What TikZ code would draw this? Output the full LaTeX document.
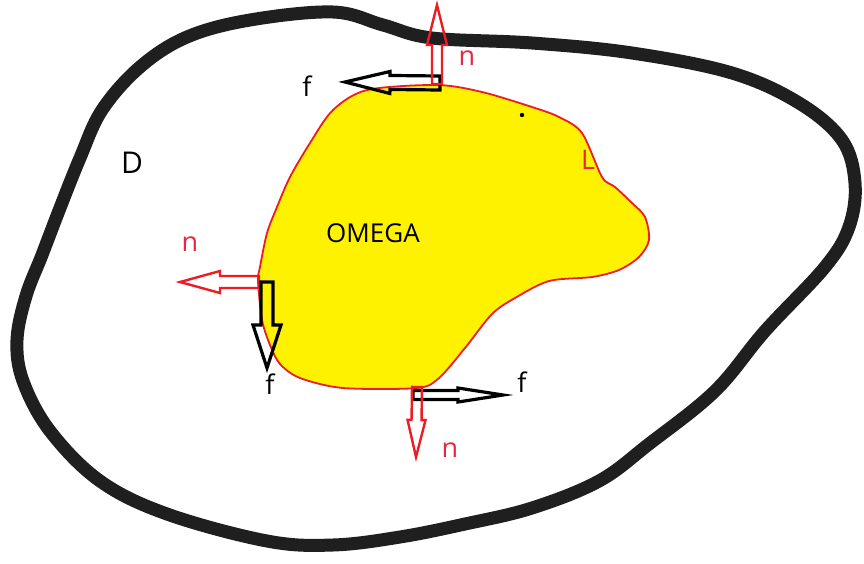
\documentclass[tikz,border=0pt]{standalone}
\usepackage{fontspec}
\setmainfont{Open Sans}
\usetikzlibrary{calc}

\definecolor{paintred}{RGB}{237,28,36}
\definecolor{paintyellow}{RGB}{255,242,0}
\definecolor{tagred}{RGB}{232,40,64}

\tikzstyle{tag}=[inner sep=0pt, font=\fontsize{27}{30}\selectfont]
\tikzstyle{normal}=[draw=paintred, line width=2.4pt, line join=miter]
\tikzstyle{force}=[draw=black, line width=3.2pt, line join=miter]

% hollow block arrow: style, from, to, shaft half width, head half width, head length
\newcommand{\blockarrow}[6]{%
  \coordinate (h) at ($(#3)!#6!(#2)$);
  \draw[#1] ($(#2)!#4!90:(#3)$) -- ($(h)!#4!90:(#3)$) -- ($(h)!#5!90:(#3)$) -- (#3)
    -- ($(h)!#5!-90:(#3)$) -- ($(h)!#4!-90:(#3)$) -- ($(#2)!#4!-90:(#3)$) -- cycle;}

\begin{document}
\begin{tikzpicture}[x=1pt, y=-1pt]
\useasboundingbox (0,0) rectangle (864,563);

% region D
\draw[line width=13pt, black!88, line join=round]
  plot[smooth cycle, tension=0.6] coordinates {
    (333,12) (383,25) (432,38) (532,43) (632,53) (732,73) (799,103)
    (842,140) (855,183) (849,227) (825,267) (765,331) (715,391) (649,444)
    (599,481) (532,508) (465,524) (400,537) (333,545) (267,541) (167,514)
    (100,481) (50,431) (23,381) (17,340) (26,296) (42,255) (60,208)
    (80,158) (102,110) (140,67) (187,37) (250,20)};

% domain OMEGA
\filldraw[fill=paintyellow, draw=paintred, line width=1.8pt]
  plot[smooth cycle, tension=0.5] coordinates {
    (437,85) (482,92) (532,107) (559,117) (582,133) (602,177) (615,187)
    (632,203) (645,217) (649,240) (639,257) (619,270) (592,277) (549,281)
    (515,298) (492,314) (465,348) (439,378) (417,388) (343,388) (300,378)
    (280,364) (270,345) (262,320) (258,281) (260,267) (267,233) (277,207)
    (290,177) (310,143) (333,110) (367,90)};
\fill (522,115) circle (2.2pt);

% normals and forces
\coordinate (ntop0) at (437,84);  \coordinate (ntop) at (437,5);
\coordinate (ftop0) at (440,83);  \coordinate (ftop) at (345,82);
\coordinate (nleft0) at (259,282); \coordinate (nleft) at (180,282);
\coordinate (fleft0) at (267,282); \coordinate (fleft) at (267,368);
\coordinate (nbot0) at (417,387); \coordinate (nbot) at (416,457);
\coordinate (fbot0) at (413,395); \coordinate (fbot) at (503,395);

\blockarrow{force}{ftop0}{ftop}{7pt}{11pt}{45pt}
\blockarrow{normal}{ntop0}{ntop}{5pt}{10pt}{40pt}
\blockarrow{normal}{nleft0}{nleft}{6pt}{11pt}{40pt}
\blockarrow{force}{fleft0}{fleft}{6pt}{14pt}{43pt}
\blockarrow{force}{fbot0}{fbot}{4.5pt}{7pt}{45pt}
\blockarrow{normal}{nbot0}{nbot}{5pt}{9pt}{37pt}

% labels
\node[tag] (fT) at (307,86) {f};
\node[tag, text=tagred] (nT) at (467,58) {n};
\node[tag, text=tagred] (nL) at (190,244) {n};
\node[tag] (fL) at (270,384) {f};
\node[tag] (fB) at (522,382) {f};
\node[tag, text=tagred] (nB) at (450,450) {n};
\node[tag, text=tagred] (L) at (588,160) {L};
\node[tag, font=\fontsize{30}{32}\selectfont] (D) at (132,163) {D};
\node[inner sep=0pt, font=\fontsize{26}{28}\selectfont] (omega) at (373,233) {OMEGA};
\end{tikzpicture}
\end{document}
